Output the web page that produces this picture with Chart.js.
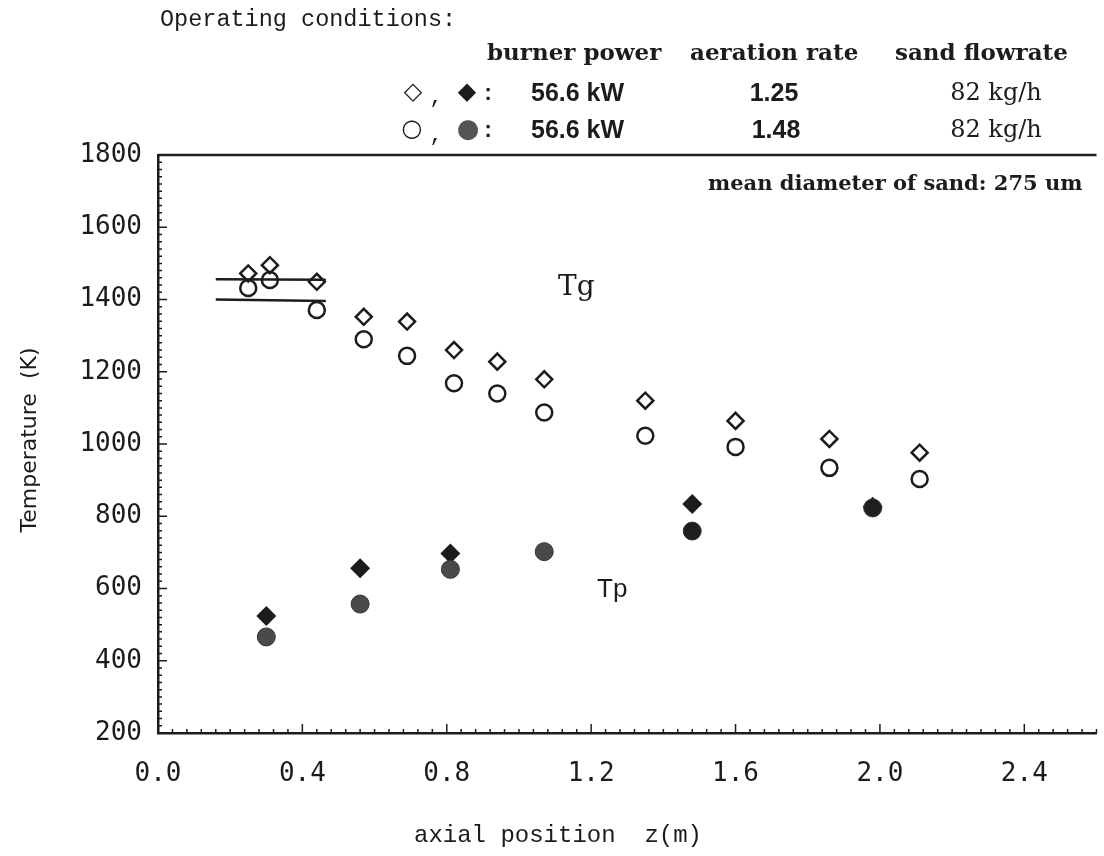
<!DOCTYPE html>
<html>
<head>
<meta charset="utf-8">
<script src="https://cdn.jsdelivr.net/npm/chart.js@4/dist/chart.umd.min.js"></script>
<style>
  html, body { margin: 0; padding: 0; background: #fff; overflow: hidden; }
  #wrap { width: 1104px; height: 856px; overflow: hidden; }
  canvas { display: block; }
</style>
</head>
<body>
<div id="wrap"><canvas id="c" width="1107" height="856"></canvas></div>
<script>
// Axial position z (m) and temperature (K)
// Tg, aeration rate 1.25 (open diamonds)
const zGasA = [0.25, 0.31, 0.44, 0.57, 0.69, 0.82, 0.94, 1.07, 1.35, 1.60, 1.86, 2.11];
const tGasA = [1472, 1495, 1449, 1352, 1339, 1260, 1228, 1179, 1120, 1064, 1014, 976];
// Tg, aeration rate 1.48 (open circles)
const zGasB = [0.25, 0.31, 0.44, 0.57, 0.69, 0.82, 0.94, 1.07, 1.35, 1.60, 1.86, 2.11];
const tGasB = [1432, 1454, 1371, 1290, 1244, 1168, 1140, 1087, 1023, 992, 934, 903];
// Tp, aeration rate 1.25 (filled diamonds)
const zPartA = [0.30, 0.56, 0.81, 1.48, 1.98];
const tPartA = [524, 656, 697, 834, 826];
// Tp, aeration rate 1.48 (filled circles)
const zPartB = [0.30, 0.56, 0.81, 1.07, 1.48, 1.98];
const tPartB = [466, 557, 653, 702, 759, 823];
// two horizontal bars near the burner
const zBar = [0.16, 0.465];
const tBarUpper = [1456, 1455];
const tBarLower = [1400, 1396];

const xTickValues = [0, 0.4, 0.8, 1.2, 1.6, 2.0, 2.4];
const yTickValues = [200, 400, 600, 800, 1000, 1200, 1400, 1600, 1800];

const ink = '#1c1c1c';
const pts = (xs, ys) => xs.map((x, i) => ({ x: x, y: ys[i] }));

// inward ticks, top frame line and the printed annotations
const decor = {
  id: 'decor',
  afterDraw(chart) {
    const { ctx, chartArea: a, scales: { x, y } } = chart;
    ctx.save();
    ctx.strokeStyle = ink;
    ctx.lineWidth = 1.5;
    ctx.beginPath();
    for (let i = 0; i <= 65; i++) {
      const px = x.getPixelForValue(i * 0.04);
      const len = i % 10 === 0 ? 9 : 4;
      ctx.moveTo(px, a.bottom); ctx.lineTo(px, a.bottom - len);
    }
    for (let v = 200; v <= 1800; v += 20) {
      const py = y.getPixelForValue(v);
      const len = v % 200 === 0 ? 9 : 4;
      ctx.moveTo(a.left, py); ctx.lineTo(a.left + len, py);
    }
    ctx.stroke();
    ctx.lineWidth = 2.5;
    ctx.beginPath();
    ctx.moveTo(a.left, a.top); ctx.lineTo(a.right, a.top);
    ctx.stroke();

    const txt = (s, px, py, font, align, color) => {
      ctx.font = font;
      ctx.textAlign = align || 'left';
      ctx.textBaseline = 'middle';
      ctx.fillStyle = color || ink;
      ctx.fillText(s, px, py);
    };
    const mono = '"Liberation Mono", monospace';
    const serif = '"DejaVu Serif", serif';
    const sans = '"Liberation Sans", sans-serif';

    txt('Operating conditions:', 160, 20, '23.5px ' + mono);
    txt('burner power', 487, 54, 'bold 23px ' + serif);
    txt('aeration rate', 690, 54, 'bold 23px ' + serif);
    txt('sand flowrate', 895, 54, 'bold 23px ' + serif);

    txt('\u25C7', 413, 93, '24px "DejaVu Sans"', 'center');
    txt(',', 436, 97, '22px ' + mono, 'center');
    txt('\u25C6', 467, 93, '24px "DejaVu Sans"', 'center');
    txt(':', 488, 94, 'bold 22px ' + mono, 'center');
    txt('56.6 kW', 531, 94, 'bold 25px ' + sans);
    txt('1.25', 774, 94, 'bold 25px ' + sans, 'center');
    txt('82 kg/h', 996, 94, '24px ' + serif, 'center');

    txt('\u25CB', 412, 130, '24px "DejaVu Sans"', 'center');
    txt(',', 436, 135, '22px ' + mono, 'center');
    txt('\u25CF', 468, 130, '26px "DejaVu Sans"', 'center', '#555');
    txt(':', 488, 131, 'bold 22px ' + mono, 'center');
    txt('56.6 kW', 531, 131, 'bold 25px ' + sans);
    txt('1.48', 776, 131, 'bold 25px ' + sans, 'center');
    txt('82 kg/h', 996, 131, '24px ' + serif, 'center');

    txt('mean diameter of sand: 275 um', 708, 185, 'bold 21px ' + serif);
    txt('Tg', 558, 288, '28px ' + serif);
    txt('Tp', 597, 590, '26px ' + sans);

    txt('axial position  z(m)', 558, 836, '24px ' + mono, 'center');
    ctx.translate(30, 440);
    ctx.rotate(-Math.PI / 2);
    txt('Temperature  (K)', 0, 0, '22px "DejaVu Sans"', 'center');
    ctx.restore();
  }
};

const tickFont = { family: '"DejaVu Sans Mono", monospace', size: 26 };

new Chart(document.getElementById('c').getContext('2d'), {
  type: 'scatter',
  data: {
    datasets: [
      {
        label: 'Tp 1.48',
        data: pts(zPartB, tPartB),
        pointStyle: 'circle',
        pointRadius: 9,
        backgroundColor: ['#4a4a4a', '#4a4a4a', '#4a4a4a', '#4a4a4a', '#1e1e1e', '#1e1e1e'],
        borderColor: '#333',
        borderWidth: 1
      },
      {
        label: 'Tp 1.25',
        data: pts(zPartA, tPartA),
        pointStyle: 'rectRot',
        pointRadius: 10,
        backgroundColor: ink,
        borderWidth: 0
      },
      {
        label: 'Tg 1.25',
        data: pts(zGasA, tGasA),
        pointStyle: 'rectRot',
        pointRadius: 8,
        backgroundColor: 'rgba(0,0,0,0)',
        borderColor: ink,
        borderWidth: 2.5
      },
      {
        label: 'Tg 1.48',
        data: pts(zGasB, tGasB),
        pointStyle: 'circle',
        pointRadius: 8,
        backgroundColor: 'rgba(0,0,0,0)',
        borderColor: ink,
        borderWidth: 2.5
      },
      {
        type: 'line',
        label: 'bar upper',
        data: pts(zBar, tBarUpper),
        borderColor: ink,
        borderWidth: 2.5,
        pointRadius: 0
      },
      {
        type: 'line',
        label: 'bar lower',
        data: pts(zBar, tBarLower),
        borderColor: ink,
        borderWidth: 2.5,
        pointRadius: 0
      }
    ]
  },
  options: {
    responsive: false,
    animation: false,
    devicePixelRatio: 1,
    layout: { padding: { top: 155, left: 0, right: 0, bottom: 0 } },
    plugins: { legend: { display: false }, tooltip: { enabled: false }, title: { display: false } },
    scales: {
      x: {
        type: 'linear',
        min: 0,
        max: 2.6,
        afterBuildTicks: s => { s.ticks = xTickValues.map(v => ({ value: v })); },
        afterFit: s => { s.height = 123; },
        grid: { display: true, drawOnChartArea: false, drawTicks: false },
        border: { display: true, color: ink, width: 2.5 },
        ticks: {
          font: tickFont,
          color: ink,
          padding: 26,
          maxRotation: 0,
          callback: v => Number(v).toFixed(1)
        }
      },
      y: {
        type: 'linear',
        min: 200,
        max: 1800,
        afterBuildTicks: s => { s.ticks = yTickValues.map(v => ({ value: v })); },
        afterFit: s => { s.width = 158; },
        grid: { display: true, drawOnChartArea: false, drawTicks: false },
        border: { display: true, color: ink, width: 2.5 },
        ticks: { font: tickFont, color: ink, padding: 16, callback: v => String(v) }
      }
    }
  },
  plugins: [decor]
});
</script>
</body>
</html>
